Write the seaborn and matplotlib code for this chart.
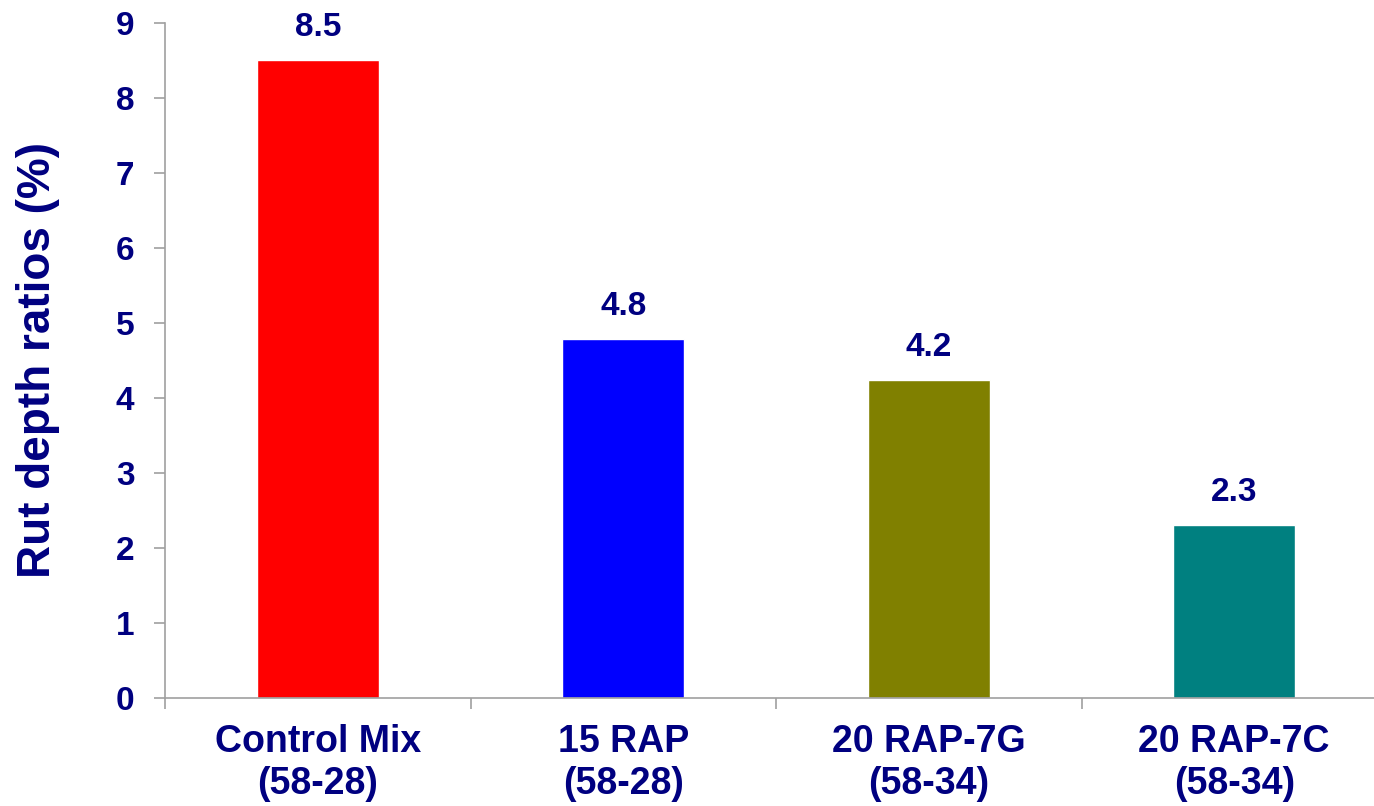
import matplotlib
matplotlib.use("Agg")
import matplotlib.pyplot as plt
import seaborn as sns
import pandas as pd

# Rut depth ratios per mix
categories = ["Control Mix\n(58-28)", "15 RAP\n(58-28)", "20 RAP-7G\n(58-34)", "20 RAP-7C\n(58-34)"]
rut_ratio = [8.51, 4.79, 4.24, 2.31]
bar_colors = ["#FF0000", "#0000FF", "#808000", "#008080"]
y_ticks = [0, 1, 2, 3, 4, 5, 6, 7, 8, 9]

NAVY = "#000080"
AXIS_GREY = "#A0A0A0"

sns.set_theme(style="white")
plt.rcParams["font.family"] = ["Liberation Sans", "DejaVu Sans"]
plt.rcParams["font.weight"] = "bold"

W, H = 1374, 806
fig = plt.figure(figsize=(W / 100, H / 100), dpi=100)
# axes placed in pixel terms: left 165, right 1387 (runs past the edge), top 23, bottom 698
ax = fig.add_axes([165 / W, (H - 698) / H, (1387 - 165) / W, (698 - 23) / H])

df = pd.DataFrame({"mix": categories, "ratio": rut_ratio})
sns.barplot(data=df, x="mix", y="ratio", hue="mix", palette=bar_colors,
            width=0.4, saturation=1, legend=False, ax=ax)

ax.set_xlim(-0.5, len(categories) - 0.5)
ax.set_ylim(0, 9)
ax.set_yticks(y_ticks)

for i, v in enumerate(rut_ratio):
    ax.annotate(f"{v:.1f}", (i, v), xytext=(0, 12), textcoords="offset points",
                ha="center", va="bottom", fontsize=24, fontweight="bold", color=NAVY)

# spines
for side in ["top", "right"]:
    ax.spines[side].set_visible(False)
for side in ["left", "bottom"]:
    ax.spines[side].set_color(AXIS_GREY)
    ax.spines[side].set_linewidth(1.2)

ax.tick_params(axis="y", which="major", length=8, width=1.2, color=AXIS_GREY,
               labelsize=24, labelcolor=NAVY, pad=14, left=True)
for lab in ax.get_yticklabels():
    lab.set_fontweight("bold")

# category labels centred, tick marks at category boundaries
ax.set_xticks(range(len(categories)))
ax.set_xticklabels(categories, fontsize=27, fontweight="bold", color=NAVY, linespacing=1.2)
ax.set_xticks([i - 0.5 for i in range(len(categories) + 1)], minor=True)
ax.tick_params(axis="x", which="major", length=0, pad=19)
ax.tick_params(axis="x", which="minor", length=8, width=1.2, color=AXIS_GREY, bottom=True)

ax.set_xlabel("")
ax.set_ylabel("Rut depth ratios (%)", fontsize=33, fontweight="bold", color=NAVY)
ax.yaxis.set_label_coords((60 - 165) / (1387 - 165), 0.5)

fig.savefig("out.png", dpi=100)
